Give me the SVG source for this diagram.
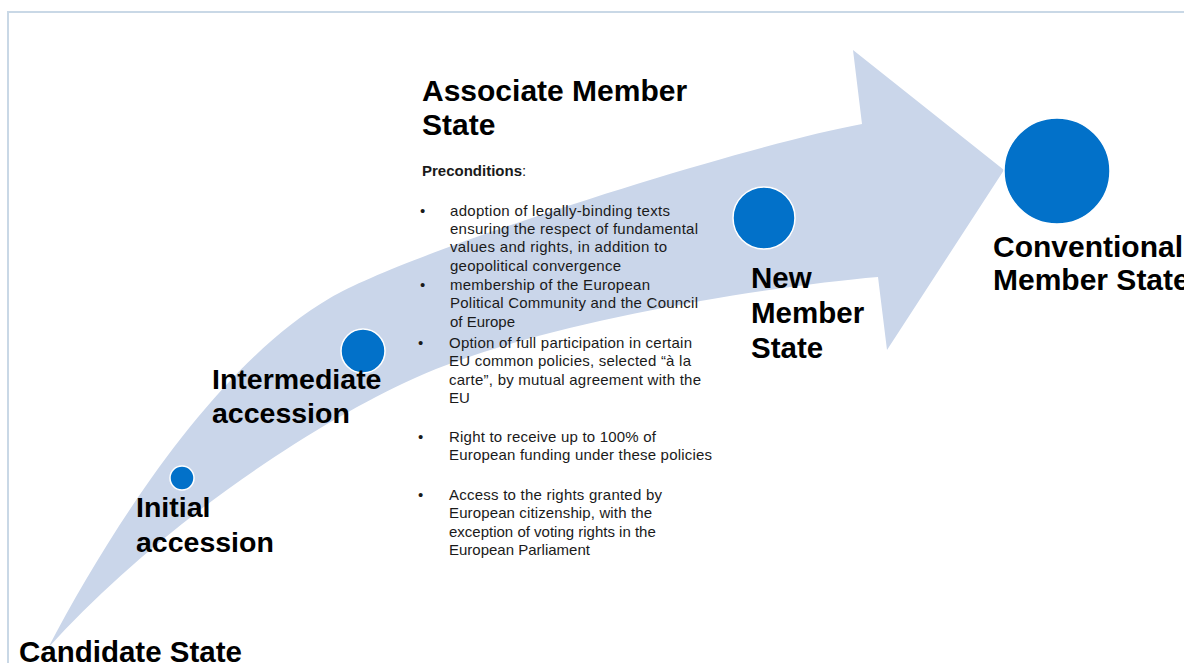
<svg xmlns="http://www.w3.org/2000/svg" width="1184" height="663" viewBox="0 0 1184 663">
<style>
.frame{fill:none;stroke:#c9d8e6;stroke-width:2}
.band{fill:#cad6ea}
.dot{fill:#0271c9;stroke:#ffffff;stroke-width:1.5}
.lbl{font-family:"Liberation Sans",Arial,sans-serif;font-weight:bold;fill:#000}
.body{font-family:"Liberation Sans",Arial,sans-serif;font-size:15px;fill:#1a1a1a}
.hd{font-family:"Liberation Sans",Arial,sans-serif;font-size:15px;fill:#1a1a1a}
</style>
<rect width="1184" height="663" fill="#ffffff"/>
<path class="frame" d="M8,663 V12 H1184"/>
<g id="connectors">
<path class="band" d="M48,648 C110,530 215,365 330,298 C410,251 742,146 862,124 L853,50 L1004,170 L887,350 L878,277 C760,287 530,325 415,378 C300,430 150,535 48,648 Z"/>
</g>
<g id="node-candidate">
<text class="lbl" x="19" y="662" font-size="29.5">Candidate State</text>
</g>
<g id="node-initial">
<circle class="dot" cx="182" cy="478" r="12"/>
<text class="lbl" x="136" y="517" font-size="28.5">Initial</text>
<text class="lbl" x="136" y="552" font-size="28.5">accession</text>
</g>
<g id="node-intermediate">
<circle class="dot" cx="363" cy="351" r="22"/>
<text class="lbl" x="212" y="389" font-size="28.5">Intermediate</text>
<text class="lbl" x="212" y="423" font-size="28.5">accession</text>
</g>
<g id="node-associate">
<text class="lbl" x="422" y="101" font-size="30">Associate Member</text>
<text class="lbl" x="422" y="135" font-size="30">State</text>
<text class="hd" x="422" y="176"><tspan font-weight="bold">Preconditions</tspan>:</text>
<g class="body">
<text x="420" y="216">•</text>
<text x="450" y="216" textLength="220" lengthAdjust="spacing">adoption of legally-binding texts</text>
<text x="450" y="234" textLength="248" lengthAdjust="spacing">ensuring the respect of fundamental</text>
<text x="450" y="252" textLength="217" lengthAdjust="spacing">values and rights, in addition to</text>
<text x="450" y="271" textLength="171" lengthAdjust="spacing">geopolitical convergence</text>
<text x="420" y="290">•</text>
<text x="450" y="290" textLength="200" lengthAdjust="spacing">membership of the European</text>
<text x="450" y="308" textLength="248" lengthAdjust="spacing">Political Community and the Council</text>
<text x="450" y="327">of Europe</text>
<text x="418" y="348">•</text>
<text x="449" y="348" textLength="243" lengthAdjust="spacing">Option of full participation in certain</text>
<text x="449" y="366" textLength="242" lengthAdjust="spacing">EU common policies, selected “à la</text>
<text x="449" y="385" textLength="252" lengthAdjust="spacing">carte”, by mutual agreement with the</text>
<text x="449" y="403">EU</text>
<text x="418" y="442">•</text>
<text x="449" y="442" textLength="207" lengthAdjust="spacing">Right to receive up to 100% of</text>
<text x="449" y="460" textLength="263" lengthAdjust="spacing">European funding under these policies</text>
<text x="418" y="500">•</text>
<text x="449" y="500" textLength="213" lengthAdjust="spacing">Access to the rights granted by</text>
<text x="449" y="518" textLength="203" lengthAdjust="spacing">European citizenship, with the</text>
<text x="449" y="537">exception of voting rights in the</text>
<text x="449" y="555">European Parliament</text>
</g>
</g>
<g id="node-new">
<circle class="dot" cx="764" cy="218" r="31"/>
<text class="lbl" x="751" y="288" font-size="29.5">New</text>
<text class="lbl" x="751" y="323" font-size="29.5">Member</text>
<text class="lbl" x="751" y="358" font-size="29.5">State</text>
</g>
<g id="node-conventional">
<circle class="dot" cx="1057" cy="171" r="53"/>
<text class="lbl" x="993" y="257" font-size="30">Conventional</text>
<text class="lbl" x="993" y="290" font-size="30">Member State</text>
</g>
</svg>
